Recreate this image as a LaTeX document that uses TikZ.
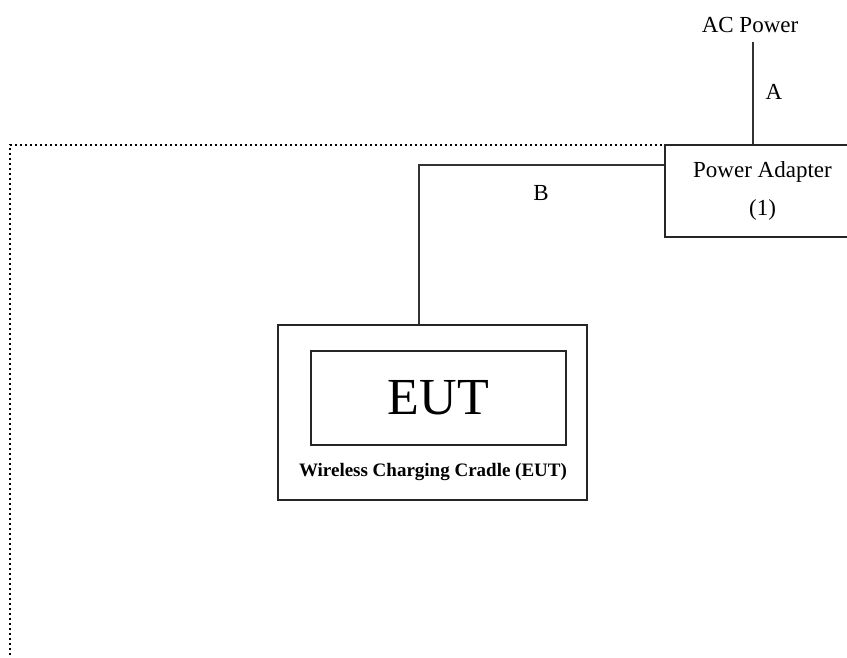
\documentclass[tikz,border=0pt]{standalone}
\usepackage{fontspec}
\setmainfont{Liberation Serif}
\begin{document}
\begin{tikzpicture}[x=1pt,y=-1pt,
  wire/.style={line width=1.1pt,draw=black!80},
  box/.style={draw=black!85,line width=1.1pt,rectangle,inner sep=0pt},
  lbl/.style={font=\fontsize{23}{28}\selectfont,inner sep=0pt},
  border/.style={line width=2.4pt,dash pattern=on 2.4pt off 2.6pt,black}]
\useasboundingbox (0,0) rectangle (847,657);
\clip (0,0) rectangle (847,657);
% dotted enclosure
\draw[border] (10,700) -- (10,145) -- (900,145);
% nodes
\node[lbl] (acpower) at (750,25) {AC Power};
\node[box,fill=white,minimum width=195pt,minimum height=92pt,align=center,
      font=\fontsize{23}{38}\selectfont] (adapter) at (762.5,191) {Power Adapter\\(1)};
\node[box,minimum width=309pt,minimum height=175pt] (cradle) at (432.5,412.5) {};
\node[box,minimum width=255pt,minimum height=94pt,font=\fontsize{52}{60}\selectfont] (eut) at (438.5,398) {EUT};
\node[font=\fontsize{19}{23}\selectfont\bfseries,inner sep=0pt] (cradlelbl) at (433,472) {Wireless Charging Cradle (EUT)};
\node[lbl] (la) at (774,92) {A};
\node[lbl] (lb) at (541,193) {B};
% connectors
\coordinate (atop) at (753,42);
\draw[wire] (atop) -- (atop |- adapter.north);
\coordinate (bturn) at (419,165);
\draw[wire] (bturn -| adapter.west) -- (bturn) -- (bturn |- cradle.north);
\end{tikzpicture}
\end{document}
